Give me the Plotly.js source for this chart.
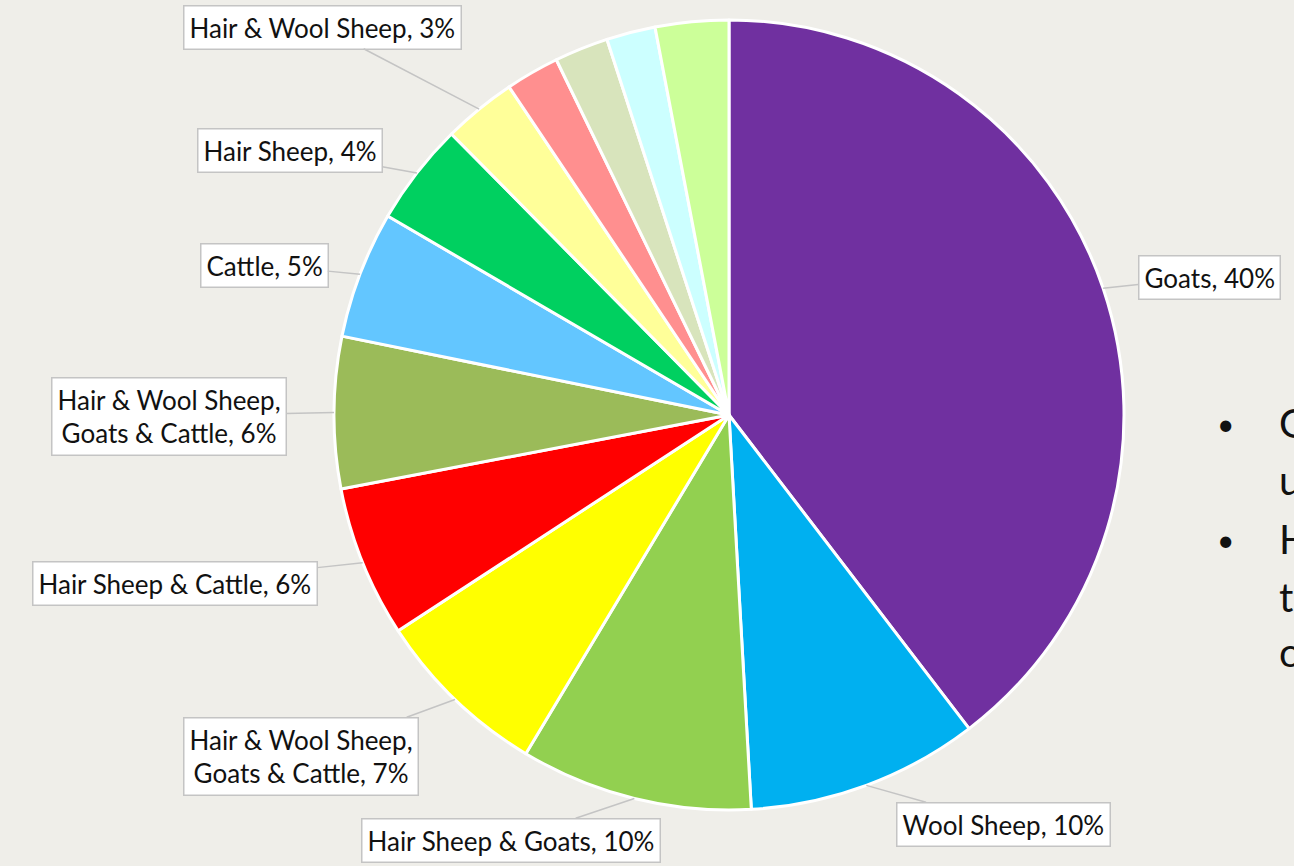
<!DOCTYPE html>
<html>
<head>
<meta charset="utf-8">
<script src="https://cdn.plot.ly/plotly-3.0.1.min.js"></script>
<style>html,body{margin:0;padding:0;background:#EFEEE9;overflow:hidden}#chart{width:1294px;height:866px}</style>
</head>
<body>
<div id="chart"></div>
<script>
// Data (clockwise from 12 o'clock)
var categories = [
  "Goats", "Wool Sheep", "Hair Sheep & Goats", "Hair & Wool Sheep, Goats & Cattle (7%)",
  "Hair Sheep & Cattle", "Hair & Wool Sheep, Goats & Cattle (6%)", "Cattle", "Hair Sheep",
  "Hair & Wool Sheep", "Other A", "Other B", "Other C", "Other D"
];
var values = [39.6, 9.5, 9.5, 7.2, 6.2, 6.2, 5.2, 4.2, 3.0, 2.2, 2.2, 2.0, 3.0];
var labelTexts = [
  "Goats, 40%", "Wool Sheep, 10%", "Hair Sheep & Goats, 10%",
  "Hair & Wool Sheep,<br>Goats & Cattle, 7%", "Hair Sheep & Cattle, 6%",
  "Hair & Wool Sheep,<br>Goats & Cattle, 6%", "Cattle, 5%", "Hair Sheep, 4%",
  "Hair & Wool Sheep, 3%", null, null, null, null
];
var colors = ["#7030A0", "#00B0F0", "#92D050", "#FFFF00", "#FF0000", "#9BBB59",
  "#63C6FF", "#00D060", "#FFFF99", "#FF8F8F", "#D8E4BC", "#CCFFFF", "#CCFF99"];
var bulletLetters = ["G", "u", "H", "t", "o"];

// Layout constants
var W = 1294, H = 866;
var cx = 729, cy = 415, R = 395;
// label box centres (px)
var boxPos = [
  [1209, 277], [1003, 824], [511, 840], [301, 756], [175, 583],
  [169, 416], [264, 265], [290, 150], [322, 27], null, null, null, null
];

var total = values.reduce(function(a, b){ return a + b; }, 0);
var annotations = [];
var cum = 0;
for (var i = 0; i < values.length; i++) {
  var mid = (cum + values[i] / 2) / total * 2 * Math.PI;
  cum += values[i];
  if (!labelTexts[i]) continue;
  var hx = cx + R * Math.sin(mid);
  var hy = cy - R * Math.cos(mid);
  annotations.push({
    xref: "paper", yref: "paper",
    x: hx / W, y: 1 - hy / H,
    ax: boxPos[i][0] - hx, ay: boxPos[i][1] - hy,
    text: labelTexts[i], showarrow: true, arrowhead: 0,
    arrowcolor: "#C4C4C4", arrowwidth: 1.5,
    bgcolor: "#FFFFFF", bordercolor: "#C4C4C4", borderwidth: 1.5, borderpad: 5,
    font: {family: "Lato, 'Open Sans', sans-serif", size: 26, color: "#111111"},
    align: "center"
  });
}

// partially visible slide text on the right
var bulletRows = [[true, 423], [false, 480], [true, 539], [false, 597], [false, 652]];
for (var j = 0; j < bulletLetters.length; j++) {
  var yy = bulletRows[j][1];
  if (bulletRows[j][0]) {
    annotations.push({xref: "paper", yref: "paper", x: 1225 / W, y: 1 - yy / H,
      xanchor: "center", yanchor: "middle", showarrow: false, text: "•",
      font: {family: "Lato, sans-serif", size: 30, color: "#111111"}});
  }
  annotations.push({xref: "paper", yref: "paper", x: 1277 / W, y: 1 - yy / H,
    xanchor: "left", yanchor: "middle", showarrow: false, text: bulletLetters[j],
    font: {family: "Lato, sans-serif", size: 40, color: "#111111"}});
}

var trace = {
  type: "pie",
  labels: categories,
  values: values,
  sort: false,
  direction: "clockwise",
  rotation: 0,
  textinfo: "none",
  hoverinfo: "label+percent",
  marker: {colors: colors, line: {color: "#FFFFFF", width: 3}},
  domain: {x: [(cx - R) / W, (cx + R) / W], y: [1 - (cy + R) / H, 1 - (cy - R) / H]},
  showlegend: false
};

var layout = {
  width: W, height: H,
  margin: {l: 0, r: 0, t: 0, b: 0},
  paper_bgcolor: "#EFEEE9",
  plot_bgcolor: "#EFEEE9",
  showlegend: false,
  annotations: annotations
};

Plotly.newPlot("chart", [trace], layout, {displayModeBar: false, staticPlot: true});
</script>
</body>
</html>
